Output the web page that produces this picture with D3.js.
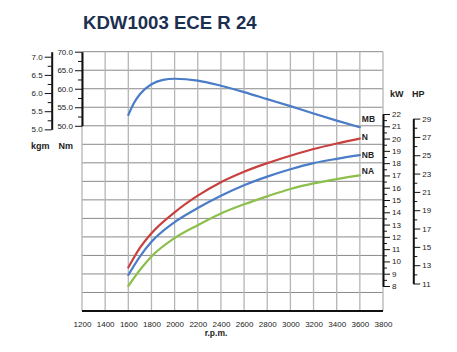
<!DOCTYPE html>
<html>
<head>
<meta charset="utf-8">
<script src="https://cdn.jsdelivr.net/npm/d3@7"></script>
<style>
  body { margin: 0; background: #fff; }
  svg { font-family: "Liberation Sans", Arial, sans-serif; display: block; }
  .tick text { font-size: 8px; fill: #222; }
</style>
</head>
<body>
<script>
let w = 457;
let h = 352;

// data
let rpmTicks = [1200, 1400, 1600, 1800, 2000, 2200, 2400, 2600, 2800, 3000, 3200, 3400, 3600, 3800];

let torqueRpm = [1600, 1650, 1700, 1800, 1900, 2000, 2200, 2400, 2600, 2800, 3000, 3200, 3400, 3600];
let torqueMB  = [52.9, 56.2, 58.5, 61.2, 62.4, 62.7, 62.2, 60.8, 59.1, 57.2, 55.3, 53.3, 51.4, 49.6];

let powerRpm = [1600, 1700, 1800, 2000, 2200, 2400, 2600, 2800, 3000, 3200, 3400, 3600];
let powerN   = [9.5, 11.1, 12.3, 14.0, 15.35, 16.45, 17.3, 18.0, 18.6, 19.15, 19.6, 20.0];
let powerNB  = [8.9, 10.4, 11.6, 13.2, 14.35, 15.35, 16.2, 16.9, 17.5, 18.0, 18.35, 18.65];
let powerNA  = [8.0, 9.3, 10.4, 11.9, 12.95, 13.9, 14.65, 15.3, 15.9, 16.35, 16.7, 17.0];

let nmTicks  = [50, 55, 60, 65, 70];
let kgmTicks = [5.0, 5.5, 6.0, 6.5, 7.0];
let kwTicks  = [8, 9, 10, 11, 12, 13, 14, 15, 16, 17, 18, 19, 20, 21, 22];
let hpTicks  = [11, 13, 15, 17, 19, 21, 23, 25, 27, 29];

let NM_PER_KGM = 9.80665;
let KW_PER_HP = 0.7457;

let viz = d3.select("body")
  .append("svg")
    .attr("width", w)
    .attr("height", h);

// scales
let x = d3.scaleLinear().domain([1200, 3800]).range([82, 383]);
let yNm = d3.scaleLinear().domain([0, 70]).range([311, 51.7]);
let ykW = d3.scaleLinear().domain([8, 22]).range([286, 114]);

// title
viz.append("text")
  .attr("x", 83)
  .attr("y", 28.5)
  .text("KDW1003 ECE R 24")
  .attr("font-size", 18.6)
  .attr("font-weight", "bold")
  .attr("fill", "#1b2f50");

// grid
let grid = viz.append("g").attr("class", "grid");

grid.selectAll("line.h")
  .data(d3.range(0, 71, 5))
  .join("line")
    .attr("class", "h")
    .attr("x1", x(1200)).attr("x2", x(3800))
    .attr("y1", d => yNm(d)).attr("y2", d => yNm(d))
    .attr("stroke", "#8a8a8a")
    .attr("stroke-width", 1);

grid.selectAll("line.v")
  .data(rpmTicks)
  .join("line")
    .attr("class", "v")
    .attr("x1", d => x(d)).attr("x2", d => x(d))
    .attr("y1", yNm(0)).attr("y2", yNm(70))
    .attr("stroke", "#b5b5b5")
    .attr("stroke-width", 1.3);

// bottom axis
viz.append("line")
  .attr("x1", x(1200)).attr("x2", x(3800))
  .attr("y1", yNm(0)).attr("y2", yNm(0))
  .attr("stroke", "#111")
  .attr("stroke-width", 2);

let xAxis = viz.append("g")
  .attr("transform", "translate(0," + yNm(0) + ")")
  .call(d3.axisBottom(x).tickValues(rpmTicks).tickSize(0).tickPadding(10).tickFormat(d3.format("d")));
xAxis.select(".domain").remove();

viz.append("text")
  .attr("x", 216)
  .attr("y", 335.5)
  .attr("text-anchor", "middle")
  .attr("font-size", 8.5)
  .attr("font-weight", "bold")
  .attr("fill", "#222")
  .text("r.p.m.");

// helper for an axis with minor + major ticks
function drawAxis(scale, axisFn, xpos, major, minor, fmt) {
  let g = viz.append("g").attr("transform", "translate(" + xpos + ",0)");
  g.append("g")
    .call(axisFn(scale).tickValues(minor).tickSize(4).tickSizeOuter(0).tickFormat(""))
    .call(s => s.select(".domain").remove())
    .selectAll("line").attr("stroke", "#111");
  let m = g.append("g")
    .call(axisFn(scale).tickValues(major).tickSize(7).tickSizeOuter(0).tickPadding(2).tickFormat(fmt));
  m.select(".domain").attr("stroke", "#111").attr("stroke-width", 2);
  m.selectAll("line").attr("stroke", "#111");
  return g;
}

// Nm axis
let nmScale = yNm.copy().domain([50, 70]).range([yNm(50), yNm(70)]);
drawAxis(nmScale, d3.axisLeft, x(1200), nmTicks, d3.range(52.5, 70, 5), d3.format(".1f"));

// kgm axis (5.0 kgm up to 70 Nm)
let kgmScale = d3.scaleLinear()
  .domain([5.0, 70 / NM_PER_KGM])
  .range([yNm(5.0 * NM_PER_KGM), yNm(70)]);
drawAxis(kgmScale, d3.axisLeft, 51.7, kgmTicks, d3.range(5.25, 7.0, 0.5), d3.format(".1f"));

// kW axis
drawAxis(ykW, d3.axisRight, x(3800), kwTicks, d3.range(8.5, 22, 1), d3.format("d"));

// HP axis
let hpScale = d3.scaleLinear()
  .domain([11, 29])
  .range([ykW(11 * KW_PER_HP), ykW(29 * KW_PER_HP)]);
drawAxis(hpScale, d3.axisRight, 413.3, hpTicks, d3.range(12, 29, 2), d3.format("d"));

// unit labels
let units = [
  { t: "kgm", x: 49.5, y: 148.5, a: "end" },
  { t: "Nm", x: 73, y: 148.5, a: "end" },
  { t: "kW", x: 390, y: 96.5, a: "start" },
  { t: "HP", x: 412, y: 96.5, a: "start" }
];
viz.selectAll("text.unit")
  .data(units)
  .join("text")
    .attr("class", "unit")
    .attr("x", d => d.x)
    .attr("y", d => d.y)
    .attr("text-anchor", d => d.a)
    .attr("font-size", 9)
    .attr("font-weight", "bold")
    .attr("fill", "#222")
    .text(d => d.t);

// curves
let series = [
  { name: "MB", rpm: torqueRpm, vals: torqueMB, y: yNm, color: "#4a7cc8", dy: -8 },
  { name: "N",  rpm: powerRpm, vals: powerN,  y: ykW, color: "#c8413e", dy: -1.5 },
  { name: "NB", rpm: powerRpm, vals: powerNB, y: ykW, color: "#4a7cc8", dy: 0 },
  { name: "NA", rpm: powerRpm, vals: powerNA, y: ykW, color: "#8cbf4b", dy: -4 }
];

let container = viz.append("g").attr("class", "lines");

series.forEach(function(s) {
  let pts = s.rpm.map((r, i) => [r, s.vals[i]]);
  let lineFunction = d3.line()
    .x(d => x(d[0]))
    .y(d => s.y(d[1]))
    .curve(d3.curveMonotoneX);

  container.append("path")
    .attr("d", lineFunction(pts))
    .attr("fill", "none")
    .attr("stroke", s.color)
    .attr("stroke-width", 2.2)
    .attr("stroke-linecap", "round");

  let last = pts[pts.length - 1];
  container.append("text")
    .attr("x", x(last[0]) + 2)
    .attr("y", s.y(last[1]) + s.dy)
    .attr("dy", "0.35em")
    .attr("font-size", 8.5)
    .attr("font-weight", "bold")
    .attr("fill", "#222")
    .text(s.name);
});
</script>
</body>
</html>
